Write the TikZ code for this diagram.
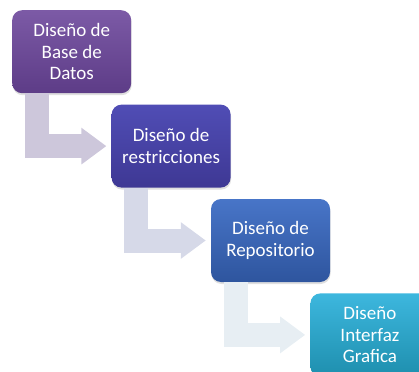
\documentclass[tikz,border=0pt]{standalone}
\usepackage{fontspec}
\setmainfont{Carlito}
\usetikzlibrary{positioning,arrows.meta,shadows}
\definecolor{PurpleTop}{HTML}{7C5AA6}
\definecolor{PurpleBot}{HTML}{5D3C87}
\definecolor{IndigoTop}{HTML}{504DB5}
\definecolor{IndigoBot}{HTML}{3E3894}
\definecolor{BlueTop}{HTML}{4875C8}
\definecolor{BlueBot}{HTML}{2E559E}
\definecolor{CyanTop}{HTML}{3DB7DE}
\definecolor{CyanBot}{HTML}{1E8FAE}
\definecolor{ArrowA}{HTML}{CDC7DB}
\definecolor{ArrowB}{HTML}{D6D9E8}
\definecolor{ArrowC}{HTML}{E7EEF3}

\begin{document}
\begin{tikzpicture}[
    x=1pt,y=-1pt,
    stage/.style={rounded corners=10pt,minimum width=119pt,minimum height=83pt,
                  align=center,text=white,inner sep=2pt,
                  font=\fontsize{19}{21.5}\selectfont,
                  drop shadow={opacity=.25,shadow xshift=.5pt,shadow yshift=-2pt}},
    next/.style={below right=11pt and -20pt of #1},
    bend/.style={line width=24pt,#1,shorten >=5pt,
                 -{Triangle[length=25pt,width=35pt]}}
  ]
    \useasboundingbox (0,0) rectangle (419,371);
    \node[stage,anchor=north west,top color=PurpleTop,bottom color=PurpleBot]
      (bd) at (12,10) {Diseño de\\Base de\\Datos};
    \node[stage,next=bd,top color=IndigoTop,bottom color=IndigoBot]
      (re) {Diseño de\\restricciones};
    \node[stage,next=re,top color=BlueTop,bottom color=BlueBot]
      (rp) {Diseño de\\Repositorio};
    \node[stage,next=rp,top color=CyanTop,bottom color=CyanBot]
      (gi) {Diseño\\Interfaz\\Grafica};
    \draw[bend=ArrowA] ([xshift=25pt]bd.south west) |- (re.west);
    \draw[bend=ArrowB] ([xshift=25pt]re.south west) |- (rp.west);
    \draw[bend=ArrowC] ([xshift=25pt]rp.south west) |- (gi.west);
\end{tikzpicture}
\end{document}
